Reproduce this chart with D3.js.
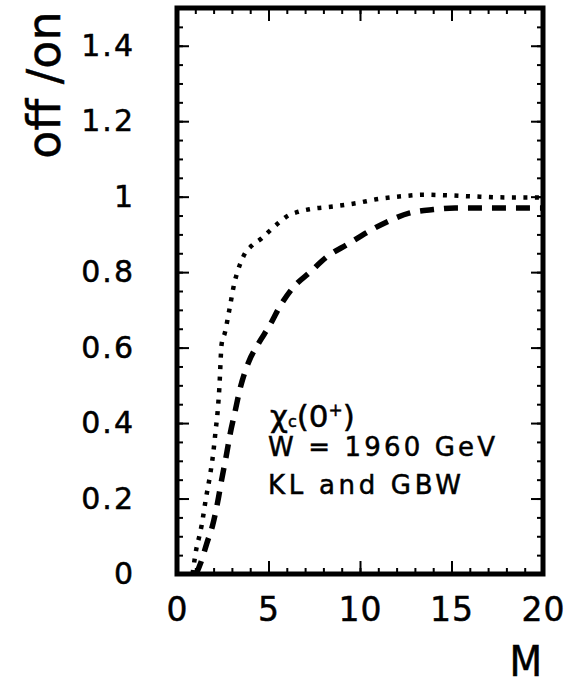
<!DOCTYPE html>
<html>
<head>
<meta charset="utf-8">
<script src="https://cdn.jsdelivr.net/npm/d3@7"></script>
<style>
  body { margin: 0; background: #fff; }
  svg { display: block; }
  text { font-family: "DejaVu Sans", sans-serif; fill: #000; stroke: #000; stroke-width: 0.5px; }
</style>
</head>
<body>
<svg width="571" height="688"></svg>
<script>
// values
var dottedM = [0.85, 1.07, 1.22, 1.35, 1.58, 1.8, 1.98, 2.11, 2.22, 2.31, 2.44, 2.62, 2.86, 3.13, 3.44, 3.72, 4.08, 4.63, 5.08, 5.54, 6.08, 6.63, 7.27, 8.54, 9.82, 11, 12.28, 13.5, 14.5, 16, 18, 20];
var dottedY = [0, 0.07, 0.10, 0.13, 0.20, 0.26, 0.32, 0.38, 0.43, 0.49, 0.61, 0.64, 0.70, 0.77, 0.82, 0.85, 0.87, 0.89, 0.91, 0.93, 0.95, 0.96, 0.967, 0.974, 0.983, 0.994, 1.001, 1.005, 1.004, 1.001, 0.998, 0.998];

var dashedM = [1.05, 1.3, 1.62, 1.95, 2.22, 2.44, 2.68, 2.9, 3.17, 3.44, 3.9, 4.44, 5.08, 5.63, 6.36, 7.27, 8.18, 9.36, 10.37, 11.55, 12.73, 14.0, 15.2, 17, 20];
var dashedY = [0, 0.03, 0.08, 0.13, 0.19, 0.25, 0.31, 0.37, 0.43, 0.49, 0.56, 0.61, 0.66, 0.71, 0.76, 0.80, 0.84, 0.875, 0.905, 0.935, 0.957, 0.966, 0.97, 0.97, 0.97];

var xMajor = [0, 5, 10, 15, 20];
var xMinor = d3.range(0, 21, 1);
var yMajor = [0, 0.2, 0.4, 0.6, 0.8, 1, 1.2, 1.4];
var yMinor = d3.range(0, 1.5001, 0.05);

var svg = d3.select("svg");
var x = d3.scaleLinear().domain([0, 20]).range([177, 543]);
var y = d3.scaleLinear().domain([0, 1.5]).range([574, 8]);

function fmt(d) { return d3.format("~g")(d); }

// bottom axis
var gb = svg.append("g").attr("transform", "translate(0,574)");
gb.call(d3.axisBottom(x).tickValues(xMinor).tickSize(-6).tickFormat(""));
gb.append("g").call(d3.axisBottom(x).tickValues(xMajor).tickSize(-13).tickPadding(23).tickFormat(fmt));
gb.selectAll("text").style("font-size", "33px").attr("dy", "0.72em").style("letter-spacing", "1px");

// top axis
var gt = svg.append("g").attr("transform", "translate(0,8)");
gt.call(d3.axisTop(x).tickValues(xMinor).tickSize(-6).tickFormat(""));
gt.append("g").call(d3.axisTop(x).tickValues(xMajor).tickSize(-13).tickFormat(""));

// left axis
var gl = svg.append("g").attr("transform", "translate(177,0)");
gl.call(d3.axisLeft(y).tickValues(yMinor).tickSize(-6).tickFormat(""));
gl.append("g").call(d3.axisLeft(y).tickValues(yMajor).tickSize(-12).tickPadding(42).tickFormat(fmt));
gl.selectAll("text").style("font-size", "30px").style("letter-spacing", "2px");

// right axis
var gr = svg.append("g").attr("transform", "translate(543,0)");
gr.call(d3.axisRight(y).tickValues(yMinor).tickSize(-6).tickFormat(""));
gr.append("g").call(d3.axisRight(y).tickValues(yMajor).tickSize(-12).tickFormat(""));

svg.selectAll(".domain").remove();
svg.selectAll(".tick line").attr("stroke", "#000").attr("stroke-width", 2);

// frame
svg.append("rect")
  .attr("x", x(0)).attr("y", y(1.5))
  .attr("width", x(20) - x(0)).attr("height", y(0) - y(1.5))
  .attr("fill", "none").attr("stroke", "#000").attr("stroke-width", 5);

// curves
var line = d3.line()
  .x(function(d) { return x(d[0]); })
  .y(function(d) { return y(d[1]); })
  .curve(d3.curveMonotoneX);

svg.append("path")
  .datum(d3.zip(dottedM, dottedY))
  .attr("d", line)
  .attr("fill", "none").attr("stroke", "#000")
  .attr("stroke-width", 4.5).attr("stroke-dasharray", "4,7.5");

svg.append("path")
  .datum(d3.zip(dashedM, dashedY))
  .attr("d", line)
  .attr("fill", "none").attr("stroke", "#000")
  .attr("stroke-width", 5.5).attr("stroke-dasharray", "14,10");

// annotation
var t1 = svg.append("text").attr("x", 270).attr("y", 427).style("font-size", "31px");
t1.append("tspan").text("χ");
t1.append("tspan").text("c").style("font-size", "16px");
t1.append("tspan").text("(0");
t1.append("tspan").text("+").attr("dy", -11).style("font-size", "17px");
t1.append("tspan").text(")").attr("dy", 11);

svg.append("text").attr("x", 268).attr("y", 456)
  .style("font-size", "26px").attr("textLength", 227).attr("lengthAdjust", "spacing")
  .text("W = 1960 GeV");
svg.append("text").attr("x", 268).attr("y", 494)
  .style("font-size", "26px").attr("textLength", 193).attr("lengthAdjust", "spacing")
  .text("KL and GBW");

// axis titles
svg.append("text")
  .attr("transform", "translate(60,85) rotate(-90)")
  .attr("text-anchor", "middle")
  .style("font-size", "46px")
  .text("off /on");

svg.append("text")
  .attr("x", 542).attr("y", 676)
  .attr("text-anchor", "end")
  .style("font-family", "'DejaVu Sans Condensed', 'DejaVu Sans', sans-serif")
  .style("font-size", "42px")
  .text("M");
</script>
</body>
</html>
